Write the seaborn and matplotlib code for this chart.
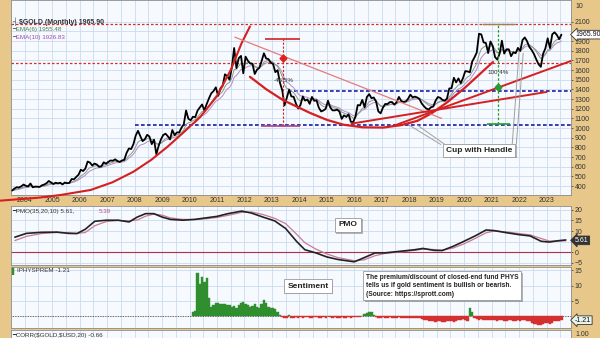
import numpy as np
import pandas as pd
import matplotlib
matplotlib.use("Agg")
import matplotlib.pyplot as plt
import matplotlib.patheffects as pe
import seaborn as sns

# ---------------- data ----------------
close_2003 = [354, 375, 388, 386, 398, 416]  # Jul-Dec 2003
close_by_year = {
    2004: [403, 397, 427, 388, 394, 394, 391, 408, 416, 429, 453, 438],
    2005: [422, 435, 428, 435, 417, 437, 430, 433, 473, 470, 495, 517],
    2006: [569, 556, 582, 654, 643, 613, 633, 623, 599, 604, 646, 632],
    2007: [650, 665, 662, 677, 659, 650, 665, 672, 743, 789, 783, 834],
    2008: [923, 972, 916, 865, 886, 930, 912, 834, 880, 730, 815, 882],
    2009: [928, 942, 916, 883, 980, 927, 955, 955, 1004, 1040, 1182, 1096],
    2010: [1081, 1117, 1113, 1180, 1213, 1244, 1182, 1248, 1307, 1359, 1383, 1421],
    2011: [1333, 1410, 1439, 1556, 1536, 1500, 1628, 1828, 1620, 1722, 1746, 1566],
    2012: [1738, 1696, 1668, 1664, 1559, 1604, 1622, 1692, 1773, 1719, 1713, 1675],
    2013: [1663, 1578, 1598, 1469, 1393, 1234, 1312, 1396, 1327, 1323, 1253, 1202],
    2014: [1240, 1326, 1284, 1296, 1250, 1322, 1282, 1287, 1211, 1172, 1182, 1199],
    2015: [1283, 1213, 1183, 1183, 1190, 1172, 1095, 1132, 1115, 1142, 1065, 1061],
    2016: [1118, 1238, 1234, 1291, 1214, 1321, 1351, 1309, 1316, 1275, 1173, 1152],
    2017: [1211, 1249, 1248, 1268, 1269, 1242, 1268, 1322, 1280, 1271, 1275, 1303],
    2018: [1345, 1318, 1325, 1316, 1299, 1253, 1224, 1201, 1192, 1215, 1222, 1282],
    2019: [1321, 1313, 1292, 1283, 1305, 1409, 1413, 1520, 1472, 1513, 1464, 1517],
    2020: [1589, 1585, 1577, 1687, 1730, 1781, 1975, 1968, 1886, 1879, 1776, 1895],
    2021: [1847, 1734, 1708, 1769, 1903, 1770, 1814, 1814, 1743, 1783, 1774, 1829],
    2022: [1797, 1909, 1937, 1897, 1838, 1807, 1766, 1711, 1660, 1633, 1768, 1824],
}
close_2023 = [1928, 1827, 1969, 1990, 1963, 1919, 1965.9]
closes = close_2003 + [v for y in sorted(close_by_year) for v in close_by_year[y]] + close_2023

# PMO(35,20,10) (decimal year, pmo, signal)
pmo_t = [2003.64, 2004.06, 2004.6, 2005.17, 2005.6, 2005.9, 2006.2, 2006.55, 2006.97, 2007.4,
         2007.8, 2008.1, 2008.4, 2008.7, 2009.0, 2009.3, 2009.75, 2010.2, 2010.6, 2011.0,
         2011.4, 2011.9, 2012.25, 2012.67, 2013.1, 2013.5, 2013.9, 2014.2, 2014.6, 2015.0,
         2015.4, 2016.0, 2016.35, 2016.76, 2017.1, 2017.7, 2018.2, 2018.5, 2018.9, 2019.2,
         2019.6, 2020.0, 2020.4, 2020.8, 2021.1, 2021.55, 2022.0, 2022.4, 2022.8, 2023.1,
         2023.4, 2023.7]
pmo_v = [7.1, 8.9, 9.4, 9.5, 8.9, 8.8, 10.8, 14.6, 15.1, 15.1,
         14.3, 16.6, 18.2, 18.2, 16.6, 15.5, 15.1, 15.5, 16.2, 16.9,
         18.2, 19.4, 18.5, 16.6, 14.8, 11.2, 5.1, 1.2, -0.3, -2.2,
         -3.4, -4.5, -2.6, -0.3, -0.3, 0.5, 1.2, 1.8, 0.9, 0.8,
         2.8, 5.2, 7.7, 10.5, 10.2, 9.2, 8.3, 7.7, 5.2, 4.8,
         5.4, 5.8]
pmo_sig = [5.5, 7.5, 8.8, 9.3, 9.2, 8.9, 9.3, 12.5, 14.5, 15.0,
           14.8, 15.2, 17.0, 18.0, 17.5, 16.2, 15.5, 15.4, 15.8, 16.4,
           17.4, 18.8, 19.0, 17.8, 16.0, 13.5, 8.5, 4.5, 1.5, -0.8,
           -2.5, -4.0, -3.6, -1.6, -0.6, 0.2, 0.9, 1.5, 1.3, 1.0,
           2.0, 4.0, 6.5, 9.2, 10.0, 9.6, 8.8, 8.2, 6.5, 5.3,
           5.3, 5.4]

# PHYS premium/discount, monthly from Feb 2010 to Jul 2023
physprem = [
    1.6, 1.8, 14.0, 10.6, 12.8, 11.2, 12.6, 5.9, 3.2, 3.7, 4.3,
    4.3, 3.9, 4.1, 4.0, 3.8, 3.7, 3.2, 3.4, 2.9, 3.6, 4.3, 4.8,
    4.2, 3.7, 3.2, 3.5, 4.0, 3.1, 2.7, 4.0, 5.5, 4.3, 3.2, 2.9,
    2.7, 2.3, 1.3, 0.5, -0.3, -0.6, -0.5, 0.4, -0.4, -0.5, -0.3, -0.4,
    -0.3, -0.5, -0.2, -0.3, -0.4, -0.5, -0.3, -0.2, -0.4, -0.5, -0.3, -0.4,
    0.2, -0.3, -0.4, -0.3, -0.5, -0.4, -0.3, -0.5, -0.4, -0.3, -0.4, -0.3,
    -0.2, -0.3, -0.2, 0.3, 0.8, 1.2, 1.4, 1.3, 0.6, -0.3, -0.5, -0.4,
    -0.3, -0.4, -0.5, -0.3, -0.4, -0.5, -0.4, -0.3, -0.5, -0.4, -0.6, -0.5,
    -0.4, -0.5, -0.4, -0.6, -0.5, -0.7, -1.0, -1.3, -1.5, -1.6, -1.4, -1.7,
    -1.5, -1.6, -1.8, -1.7, -1.5, -1.6, -1.4, -1.7, -1.6, -1.3, -1.2, -0.9,
    -1.0, -1.4, 2.9, 1.6, -0.6, -0.8, -1.0, -0.9, -1.2, -1.1, -1.3, -1.0,
    -1.1, -1.3, -1.6, -1.2, -1.0, -1.4, -1.5, -1.3, -1.2, -1.5, -1.4, -1.3,
    -1.5, -1.2, -1.1, -1.4, -1.6, -2.0, -2.3, -2.5, -2.7, -2.8, -2.5, -2.2,
    -2.0, -2.4, -2.1, -1.6, -1.4, -1.5, -1.21,
]

years = list(range(2004, 2024))
price_ticks = [400, 500, 600, 700, 800, 900, 1000, 1100, 1200, 1300, 1400, 1500, 1600, 1700, 1800, 1900, 2100]
price_grid = list(range(400, 2200, 100))
pmo_ticks = [20, 15, 10, 0, -5]
sent_ticks = [15, 10, 5]

# chart annotations (values in data units)
red_levels = [2078, 1675]
blue_low = (2008.0, 1035)
blue_high = (2013.6, 1380)
parabola_x = [2002.9, 2004.5, 2005.3, 2006.4, 2007.2, 2007.96, 2008.6, 2009.2, 2009.8, 2010.4, 2011.0, 2011.5, 2011.9, 2012.2]
parabola_y = [245, 280, 308, 360, 440, 549, 670, 807, 960, 1118, 1330, 1600, 1880, 2050]
cup_x = [2012.2, 2012.8, 2013.4, 2014.4, 2015.0, 2015.6, 2016.3, 2017.05, 2017.7, 2018.3, 2018.8, 2019.4, 2020.0, 2020.5, 2021.05]
cup_y = [1530, 1400, 1290, 1155, 1085, 1035, 1008, 1005, 1030, 1075, 1150, 1270, 1410, 1540, 1683]
downtrend = ([2011.65, 2019.18], [1940, 1100])
line_b = ([2017.4, 2023.95], [1020, 1700])
line_c = ([2015.9, 2023.0], [1046, 1373])
drop_x, drop_top, drop_bot, drop_mark = 2013.42, 1916, 1020, 1721
rise_x, rise_top, rise_bot, rise_mark = 2021.24, 2078, 1040, 1422

# ---------------- figure ----------------
sns.set_theme(style="white")
plt.rcParams["font.family"] = ["Liberation Sans", "DejaVu Sans"]

W, H = 600, 338
TAN = "#e8c78a"
BG = "#f6f9fd"
GRID = "#c9dcef"
fig = plt.figure(figsize=(6, 3.38), dpi=100)
fig.patch.set_facecolor(TAN)


def rect(x0, y0, x1, y1):
    return [x0 / W, 1 - y1 / H, (x1 - x0) / W, (y1 - y0) / H]


def ftext(x, y, s, **kw):
    return fig.text(x / W, 1 - y / H, s, **kw)


XMIN = 2004 - 13 / 27.5
XMAX = XMIN + 560 / 27.5

ax = fig.add_axes(rect(11, 0, 571, 195))
ax_pmo = fig.add_axes(rect(11, 206, 571, 265))
ax_s = fig.add_axes(rect(11, 267, 571, 328))
ax_c = fig.add_axes(rect(11, 330, 571, 400))

for a in (ax, ax_pmo, ax_s, ax_c):
    a.set_facecolor(BG)
    a.set_xlim(XMIN, XMAX)
    a.set_xticks(years)
    a.set_xticks([y + 0.5 for y in years[:-1]] + [2003.5, 2023.5], minor=True)
    a.grid(True, which="both", axis="x", color=GRID, lw=0.6)
    a.yaxis.tick_right()
    a.tick_params(axis="y", labelsize=5, length=1.5, pad=1, colors="#333333", width=0.5)
    a.tick_params(axis="x", length=0, which="both")
    for s in a.spines.values():
        s.set_color("#8c8c8c")
        s.set_linewidth(0.6)

# ---- price panel ----
months = 2003.5 + np.arange(len(closes)) / 12 + 1 / 24
df = pd.DataFrame({"t": months, "close": closes})
df["ema6"] = df["close"].ewm(span=6, adjust=False).mean()
df["ema10"] = df["close"].ewm(span=10, adjust=False).mean()

ax.set_ylim(308, 2324)
ax.set_yticks(price_ticks)
for g in price_grid:
    ax.axhline(g, color=GRID, lw=0.6, zorder=0.5)
ax.set_xticklabels([str(y) for y in years])
ax.tick_params(axis="x", labelsize=5, pad=1.5, colors="#333333")

for lv in red_levels:
    ax.axhline(lv, color="#d62c2c", ls=(0, (2, 1.6)), lw=0.9, zorder=3)
ax.hlines(blue_low[1], blue_low[0], XMAX, color="#1c1ca8", ls=(0, (2.2, 1.4)), lw=1.2, zorder=3)
ax.hlines(blue_high[1], blue_high[0], XMAX, color="#1c1ca8", ls=(0, (2.2, 1.4)), lw=1.2, zorder=3)

sns.lineplot(data=df, x="t", y="ema10", ax=ax, color="#b48cc4", lw=0.7, zorder=4)
sns.lineplot(data=df, x="t", y="ema6", ax=ax, color="#8a9a8a", lw=0.7, zorder=4)
sns.lineplot(data=df, x="t", y="close", ax=ax, color="black", lw=1.3, zorder=5)
ax.set_xlabel("")
ax.set_ylabel("")

ax.plot(parabola_x, parabola_y, color="#d42020", lw=1.5, zorder=6, clip_on=False)
ax.plot(cup_x, cup_y, color="#d42020", lw=1.6, zorder=6)
ax.plot(*downtrend, color="#e87a7a", lw=0.9, zorder=6)
ax.plot(*line_b, color="#d42020", lw=1.4, zorder=6)
ax.plot(*line_c, color="#d42020", lw=1.4, zorder=6)

# drop measurement
ax.vlines(drop_x, drop_bot, drop_top, color="#d42020", ls=(0, (2, 1.5)), lw=0.8, zorder=7)
ax.hlines(drop_top, drop_x - 0.66, drop_x + 0.62, color="#d42020", lw=1.2, zorder=7)
ax.hlines(drop_bot, drop_x - 0.8, drop_x + 0.62, color="#b04080", lw=1.2, zorder=7)
ax.plot([drop_x], [drop_mark], marker="D", ms=3.5, color="#e02020", zorder=8)
ax.text(drop_x, 1487, "-46.5%", fontsize=4.5, ha="center", va="center", color="#333333", zorder=8)
# rise measurement
ax.vlines(rise_x, rise_bot, rise_top, color="#22a022", ls=(0, (2, 1.5)), lw=0.9, zorder=7)
ax.hlines(rise_top, rise_x - 0.6, rise_x + 0.6, color="#a08050", lw=1.0, zorder=7)
ax.hlines(rise_bot, rise_x - 0.4, rise_x + 0.43, color="#22a022", lw=1.2, zorder=7)
ax.plot([rise_x], [rise_mark], marker="D", ms=3.5, color="#2a9a2a", zorder=8)
ax.text(rise_x, 1570, "100.4%", fontsize=4.5, ha="center", va="center", color="#333333", zorder=8)

# Cup with Handle callout
for (x0, y0), (x1, y1) in [((2018.3, 1030), (2019.3, 830)), ((2018.0, 1030), (2019.15, 830)),
                            ((2022.15, 1776), (2021.9, 830)), ((2022.0, 1790), (2021.75, 830))]:
    ax.plot([x0, x1], [y0, y1], color="#a0a0a0", lw=0.7, zorder=8)
cup_txt = ax.text(2020.55, 770, "Cup with Handle", fontsize=6, fontweight="bold", ha="center", va="center",
                  color="#222222", zorder=9,
                  bbox=dict(boxstyle="square,pad=0.35", fc="white", ec="#999999", lw=0.6))
cup_txt.get_bbox_patch().set_path_effects([pe.withSimplePatchShadow(offset=(1, -1), alpha=0.4)])

ax.annotate("1965.90", xy=(1.0, 1965.9), xycoords=("axes fraction", "data"), xytext=(3, 0),
            textcoords="offset points", va="center", ha="left", fontsize=5, color="#111111",
            bbox=dict(boxstyle="larrow,pad=0.12", fc="white", ec="#333333", lw=0.6), zorder=10,
            annotation_clip=False)

ftext(12, 22, "\u2524 \\$GOLD (Monthly) 1965.90", fontsize=5, color="#333333", va="center", fontweight="bold")
ftext(12, 29.5, "\u2501EMA(6) 1955.48", fontsize=4.5, color="#4d7d4d", va="center")
ftext(12, 37, "\u2501EMA(10) 1926.83", fontsize=4.5, color="#9a4fb0", va="center")
ftext(575, 7, "10", fontsize=5, color="#333333", va="center")

# ---- PMO panel ----
pmo_df = pd.DataFrame({"t": pmo_t, "pmo": pmo_v, "sig": pmo_sig})
ax_pmo.set_ylim(-6.0, 21.8)
ax_pmo.set_yticks(pmo_ticks)
ax_pmo.grid(True, which="major", axis="y", color=GRID, lw=0.6)
ax_pmo.axhline(5, color=GRID, lw=0.6, zorder=0.5)
ax_pmo.set_xticklabels([])
ax_pmo.axhline(0, color="#a8324f", lw=0.8, zorder=2)
sns.lineplot(data=pmo_df, x="t", y="sig", ax=ax_pmo, color="#c97a98", lw=0.9, zorder=3)
sns.lineplot(data=pmo_df, x="t", y="pmo", ax=ax_pmo, color="#222222", lw=1.2, zorder=4)
ax_pmo.set_xlabel("")
ax_pmo.set_ylabel("")
ax_pmo.annotate("5.61", xy=(1.0, 5.61), xycoords=("axes fraction", "data"), xytext=(3, 0),
                textcoords="offset points", va="center", ha="left", fontsize=5, color="white",
                bbox=dict(boxstyle="larrow,pad=0.12", fc="#333333", ec="#333333", lw=0.6),
                annotation_clip=False)
ftext(12, 211.5, "\u2501PMO(35,20,10) 5.61,", fontsize=4.5, color="#333333", va="center")
ftext(99, 211.5, "5.39", fontsize=4.5, color="#b0508a", va="center")
pmo_box = ftext(348, 225, "PMO", fontsize=6, fontweight="bold", ha="center", va="center", color="#222222",
                bbox=dict(boxstyle="square,pad=0.45", fc="white", ec="#999999", lw=0.6))
pmo_box.get_bbox_patch().set_path_effects([pe.withSimplePatchShadow(offset=(1, -1), alpha=0.4)])

# ---- Sentiment panel ----
s_t = 2010 + 1 / 12 + np.arange(len(physprem)) / 12 + 1 / 24
sdf = pd.DataFrame({"t": s_t, "v": physprem})
colors = ["#2f8f2f" if v >= 0 else "#d43030" for v in sdf["v"]]
ax_s.bar(sdf["t"], sdf["v"], width=1 / 12, color=colors, edgecolor=colors, lw=0.3, zorder=3)
ax_s.set_ylim(-3.75, 16.1)
ax_s.set_yticks(sent_ticks)
ax_s.grid(True, which="major", axis="y", color=GRID, lw=0.6)
ax_s.set_xticklabels([])
ax_s.axhline(0, color="#333333", ls=(0, (1, 1)), lw=0.6, zorder=2)
ax_s.annotate("-1.21", xy=(1.0, -1.21), xycoords=("axes fraction", "data"), xytext=(3, 0),
              textcoords="offset points", va="center", ha="left", fontsize=5, color="#111111",
              bbox=dict(boxstyle="larrow,pad=0.12", fc="#e9f3e9", ec="#333333", lw=0.6),
              annotation_clip=False)
ftext(12, 271, "\u258c", fontsize=4.5, color="#2f8f2f", va="center")
ftext(17, 271, "IPHYSPREM -1.21", fontsize=4.5, color="#333333", va="center")
s_box = ftext(308, 286, "Sentiment", fontsize=6, fontweight="bold", ha="center", va="center", color="#222222",
              bbox=dict(boxstyle="square,pad=0.4", fc="white", ec="#999999", lw=0.6))
s_box.get_bbox_patch().set_path_effects([pe.withSimplePatchShadow(offset=(1, -1), alpha=0.4)])
info = ftext(366, 274, "The premium/discount of closed-end fund PHYS\ntells us if gold sentiment is bullish or bearish.\n(Source: https://sprott.com)",
             fontsize=4.8, fontweight="bold", ha="left", va="top", color="#222222", linespacing=1.25,
             bbox=dict(boxstyle="square,pad=0.4", fc="white", ec="#999999", lw=0.6))
info.get_bbox_patch().set_path_effects([pe.withSimplePatchShadow(offset=(1, -1), alpha=0.4)])

# ---- CORR panel (cut off) ----
ax_c.set_ylim(0, 1)
ax_c.set_yticks([])
ax_c.set_xticklabels([])
ftext(12, 335.5, "\u2501CORR(\\$GOLD,\\$USD,20) -0.66", fontsize=4.5, color="#333333", va="center")
ftext(575, 334.5, "1.00", fontsize=5, color="#333333", va="center")

fig.savefig("out.png", dpi=100, facecolor=fig.get_facecolor())
